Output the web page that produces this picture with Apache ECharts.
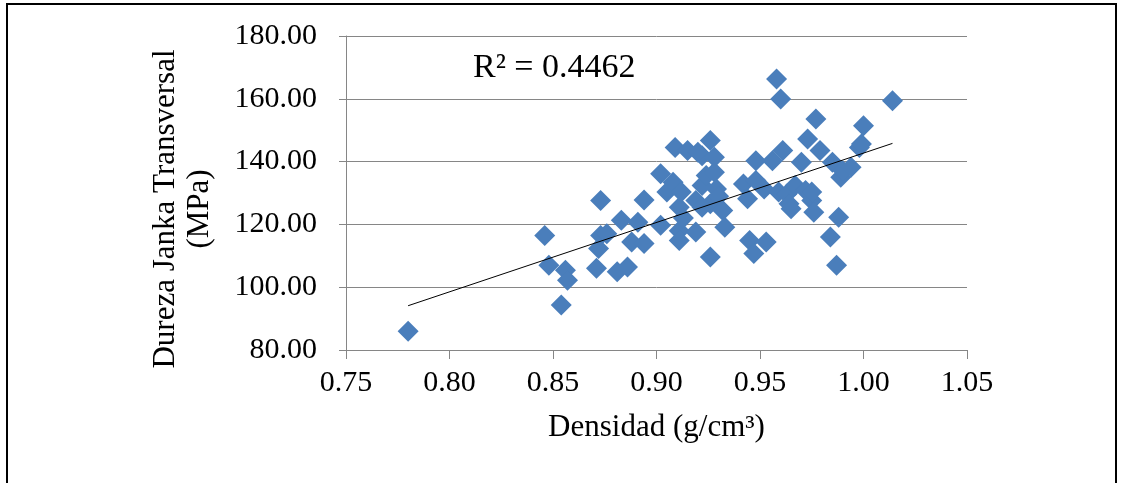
<!DOCTYPE html>
<html>
<head>
<meta charset="utf-8">
<script src="https://cdn.jsdelivr.net/npm/echarts@6/dist/echarts.min.js"></script>
<style>
html,body{margin:0;padding:0;background:#fff;}
#chart{width:1125px;height:483px;}
</style>
</head>
<body>
<div id="chart"></div>
<script>
// Density (g/cm3) of each specimen
const densidad = [
  0.780, 0.846, 0.848, 0.854, 0.856, 0.857, 0.871, 0.872, 0.873, 0.876,
  0.873, 0.881, 0.883, 0.886, 0.888, 0.891, 0.894, 0.894, 0.902, 0.902,
  0.905, 0.908, 0.909, 0.911, 0.911, 0.911, 0.912, 0.913, 0.915, 0.919,
  0.919, 0.922, 0.922, 0.924, 0.926, 0.926, 0.926, 0.928, 0.928, 0.929,
  0.930, 0.932, 0.933, 0.942, 0.944, 0.945, 0.947, 0.948, 0.948, 0.952,
  0.953, 0.956, 0.958, 0.959, 0.960, 0.961, 0.963, 0.964, 0.967, 0.970,
  0.972, 0.973, 0.975, 0.976, 0.977, 0.979, 0.984, 0.985, 0.987, 0.988,
  0.989, 0.990, 0.994, 0.998, 0.999, 1.000, 1.014, 0.920, 0.922, 0.965,
  0.975
];
// Transverse Janka hardness (MPa)
const dureza = [
  86.0, 116.5, 107.0, 94.3, 105.4, 102.2, 106.0, 112.3, 116.5, 117.0,
  127.6, 104.9, 121.3, 106.4, 114.4, 120.7, 127.8, 113.9, 119.7, 136.1,
  130.3, 133.4, 144.5, 118.0, 114.9, 125.5, 130.3, 122.0, 143.5, 117.6,
  127.6, 141.9, 132.4, 135.6, 146.7, 126.6, 109.6, 141.4, 136.6, 131.3,
  129.0, 124.4, 119.1, 132.9, 128.2, 114.9, 110.7, 134.0, 140.3, 131.3,
  114.4, 140.3, 166.3, 130.3, 159.9, 143.5, 129.7, 126.6, 132.4, 139.8,
  130.8, 147.2, 127.6, 123.9, 153.6, 143.5, 116.0, 139.8, 107.0, 122.3,
  135.0, 137.1, 138.2, 144.5, 145.6, 151.4, 159.4, 143.0, 125.5, 125.0,
  130.3
];
// Linear trendline end points
const trendX = [0.780, 1.014];
const trendY = [94.1, 145.8];
const r2Label = 'R² = 0.4462';
const xTitle = 'Densidad (g/cm³)';
const yTitle = 'Dureza Janka Transversal\n(MPa)';

const points = densidad.map((d, i) => [d, dureza[i]]);
const trend = trendX.map((d, i) => [d, trendY[i]]);

const FONT = "'Liberation Serif', 'Times New Roman', serif";
const chart = echarts.init(document.getElementById('chart'), null, {renderer: 'canvas'});
chart.setOption({
  animation: false,
  backgroundColor: '#ffffff',
  grid: {left: 346, top: 36, right: 158, bottom: 133, containLabel: false},
  xAxis: {
    type: 'value', min: 0.75, max: 1.05, interval: 0.05,
    name: xTitle, nameLocation: 'middle', nameGap: 62,
    nameTextStyle: {fontFamily: FONT, fontSize: 31, color: '#000'},
    axisLine: {show: true, lineStyle: {color: '#868686', width: 1}},
    axisTick: {show: true, inside: false, length: 9, lineStyle: {color: '#868686'}},
    axisLabel: {margin: 18, fontFamily: FONT, fontSize: 30, color: '#000',
      formatter: v => v.toFixed(2)},
    splitLine: {show: false}
  },
  yAxis: {
    type: 'value', min: 80, max: 180, interval: 20,
    axisLine: {show: true, lineStyle: {color: '#868686', width: 1}},
    axisTick: {show: true, inside: false, length: 7, lineStyle: {color: '#868686'}},
    axisLabel: {margin: 29, fontFamily: FONT, fontSize: 30, color: '#000',
      formatter: v => v.toFixed(2)},
    splitLine: {show: true, lineStyle: {color: '#868686', width: 1}}
  },
  series: [
    {
      type: 'scatter', data: points, symbol: 'diamond', symbolSize: 21,
      itemStyle: {color: '#4a7ebb', opacity: 1}, z: 3
    },
    {
      type: 'line', data: trend, symbol: 'none', z: 4,
      lineStyle: {color: '#000000', width: 1}
    }
  ],
  graphic: [
    {type: 'rect', shape: {x: 7, y: 4, width: 1109, height: 500},
     style: {fill: 'none', stroke: '#000', lineWidth: 2}, silent: true},
    {type: 'text', x: 473, y: 68,
     style: {text: r2Label, font: '34px ' + FONT, fill: '#000', textAlign: 'left', textVerticalAlign: 'middle'}},
    {type: 'text', x: 183, y: 209, rotation: Math.PI / 2,
     style: {text: yTitle, font: '31px ' + FONT, fill: '#000', textAlign: 'center', textVerticalAlign: 'middle', lineHeight: 34}}
  ]
});
</script>
</body>
</html>
